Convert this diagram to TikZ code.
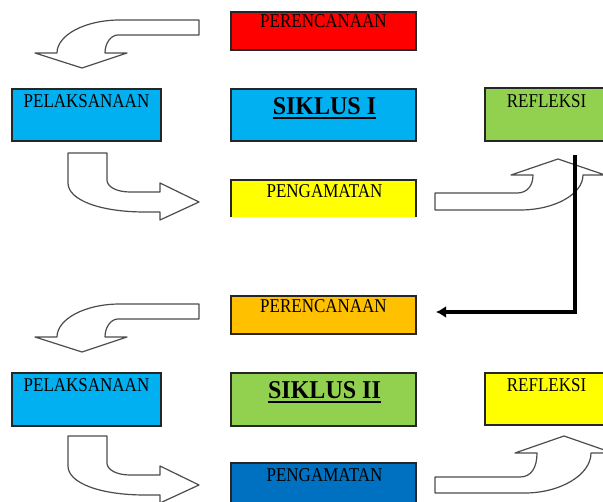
\documentclass[tikz,border=0pt]{standalone}
\usepackage{fontspec}
\setmainfont{Liberation Serif}
\usepackage{graphicx}
\usetikzlibrary{arrows.meta}
\definecolor{cRed}{HTML}{FF0000}
\definecolor{cCyan}{HTML}{00B0F0}
\definecolor{cGreen}{HTML}{92D050}
\definecolor{cYellow}{HTML}{FFFF00}
\definecolor{cOrange}{HTML}{FFC000}
\definecolor{cBlue}{HTML}{0070C0}
\newcommand{\vst}[1]{\scalebox{1}[1.15]{#1}}
\begin{document}
\begin{tikzpicture}[x=1pt,y=-1pt,
  boxfill/.style={anchor=north west,inner sep=0pt,outer sep=0pt},
  box/.style={boxfill,draw=black!85,line width=1.4pt},
  edge/.style={draw=black!85,line width=1.4pt},
  lbl/.style={anchor=base,inner sep=0pt,font=\fontsize{17}{17}\selectfont},
  title/.style={anchor=base,inner sep=0pt,font=\fontsize{24}{24}\selectfont\bfseries},
  uline/.style={line width=2pt},
  barrow/.style={draw=black!70,fill=white,line width=1.2pt,line join=round},
  flow/.style={line width=3.2pt,line join=miter,-{Latex[length=10pt,width=12pt]}}]
\clip (0,0) rectangle (603,502);
\fill[white] (0,0) rectangle (603,502);

% ---- block arrows ----
\draw[barrow] (199,20) -- (120,20) .. controls (85,20) and (57,35) .. (57,53) -- (35,53) -- (82,68) -- (127,53) -- (105,53) .. controls (105,43) and (111,35) .. (118,35) -- (199,35) -- cycle;
\draw[barrow] (68,153) -- (107,153) -- (107,180) .. controls (107,187) and (117,192) .. (130,192) -- (160,192) -- (160,183) -- (199,202) -- (160,220) -- (160,212) -- (145,212) .. controls (100,212) and (68,200) .. (68,183) -- cycle;
\draw[barrow] (435,193) -- (517,193) .. controls (527,193) and (533,186) .. (533,175) -- (511,175) -- (558,159) -- (605,175) -- (583,175) .. controls (583,194) and (555,210) .. (520,210) -- (435,210) -- cycle;
\draw[barrow] (199,304) -- (120,304) .. controls (85,304) and (57,319) .. (57,337) -- (35,337) -- (82,352) -- (127,337) -- (105,337) .. controls (105,327) and (111,319) .. (118,319) -- (199,319) -- cycle;
\draw[barrow] (68,436) -- (107,436) -- (107,463) .. controls (107,470) and (117,475) .. (130,475) -- (160,475) -- (160,466) -- (199,485) -- (160,503) -- (160,495) -- (145,495) .. controls (100,495) and (68,483) .. (68,466) -- cycle;
\draw[barrow] (435,477) -- (520,477) .. controls (531,477) and (537,468) .. (537,453) -- (515,453) -- (564,436) -- (613,453) -- (591,453) .. controls (591,475) and (560,493) .. (525,493) -- (435,493) -- cycle;

% ---- boxes: cycle I ----
\node[box,fill=cRed,minimum width=185pt,minimum height=38pt] (per1) at (231,12) {};
\node[lbl] (per1t) at (323.5,28) {\vst{PERENCANAAN}};
\node[box,fill=cCyan,minimum width=149pt,minimum height=52pt] (pel1) at (12,89) {};
\node[lbl] (pel1t) at (86.5,108) {\vst{PELAKSANAAN}};
\node[box,fill=cCyan,minimum width=185pt,minimum height=52pt] (sik1) at (231,89) {};
\node[title] (sik1t) at (324.5,115) {\scalebox{1}[1.07]{SIKLUS I}};
\draw[uline] ([yshift=-3.5pt]sik1t.base west) -- ([yshift=-3.5pt]sik1t.base east);
\node[box,fill=cGreen,minimum width=123pt,minimum height=53pt] (ref1) at (485,88) {};
\node[lbl] (ref1t) at (546.5,108) {\vst{REFLEKSI}};
\node[boxfill,fill=cYellow,minimum width=185pt,minimum height=37pt] (pen1) at (231,180) {};
\draw[edge] (pen1.south west) -- (pen1.north west) -- (pen1.north east) -- (pen1.south east);
\node[lbl] (pen1t) at (324.5,198) {\vst{PENGAMATAN}};

% ---- boxes: cycle II ----
\node[box,fill=cOrange,minimum width=185pt,minimum height=38pt] (per2) at (231,296) {};
\node[lbl] (per2t) at (323.5,313) {\vst{PERENCANAAN}};
\node[box,fill=cCyan,minimum width=149pt,minimum height=53pt] (pel2) at (12,373) {};
\node[lbl] (pel2t) at (86.5,392) {\vst{PELAKSANAAN}};
\node[box,fill=cGreen,minimum width=185pt,minimum height=53pt] (sik2) at (231,373) {};
\node[title] (sik2t) at (324.5,399) {\scalebox{1}[1.07]{SIKLUS II}};
\draw[uline] ([yshift=-3.5pt]sik2t.base west) -- ([yshift=-3.5pt]sik2t.base east);
\node[box,fill=cYellow,minimum width=123pt,minimum height=52pt] (ref2) at (485,373) {};
\node[lbl] (ref2t) at (546.5,392) {\vst{REFLEKSI}};
\node[box,fill=cBlue,minimum width=185pt,minimum height=50pt] (pen2) at (231,463) {};
\node[lbl] (pen2t) at (324.5,482) {\vst{PENGAMATAN}};

% ---- connector from cycle I reflection to cycle II planning ----
\coordinate (ls) at (575,155);
\coordinate (le) at (436,312);
\draw[flow] (ls) |- (le);
\end{tikzpicture}
\end{document}
